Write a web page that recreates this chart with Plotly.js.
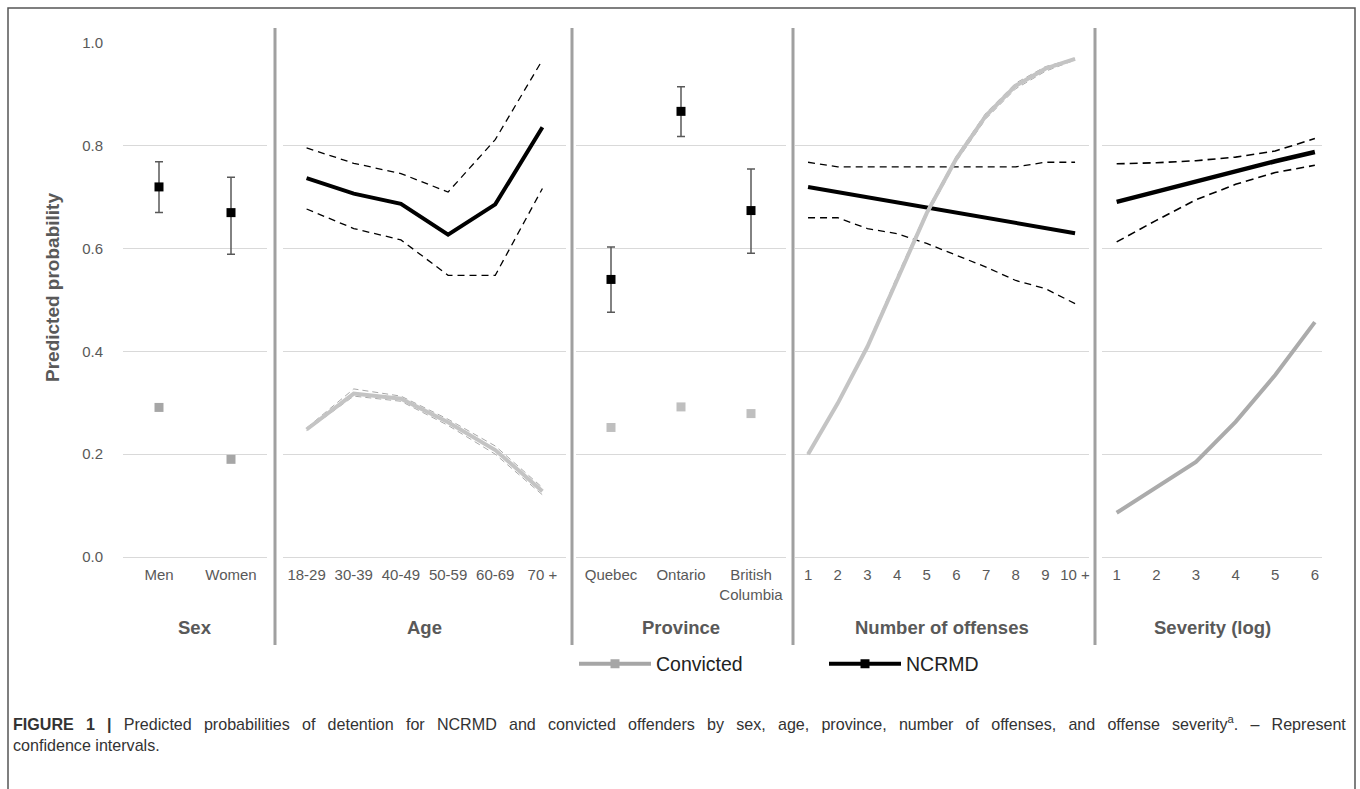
<!DOCTYPE html>
<html>
<head>
<meta charset="utf-8">
<script src="https://cdn.plot.ly/plotly-3.0.1.min.js"></script>
<style>html,body{margin:0;padding:0;background:#fff;}#chart{width:1360px;height:789px;}</style>
</head>
<body>
<div id="chart"></div>
<script>
// ---- Data ----
const sexCats = ['Men', 'Women'];
const sexNcrmd = [0.720, 0.670];
const sexNcrmdHi = [0.769, 0.739];
const sexNcrmdLo = [0.670, 0.589];
const sexConvicted = [0.291, 0.190];

const ageCats = ['18-29', '30-39', '40-49', '50-59', '60-69', '70 +'];
const ageNcrmd = [0.737, 0.707, 0.687, 0.627, 0.686, 0.836];
const ageNcrmdHi = [0.796, 0.766, 0.746, 0.710, 0.812, 0.967];
const ageNcrmdLo = [0.677, 0.639, 0.617, 0.548, 0.548, 0.717];
const ageConvicted = [0.248, 0.318, 0.308, 0.262, 0.208, 0.128];
const ageConvictedHi = [0.251, 0.327, 0.313, 0.268, 0.216, 0.135];
const ageConvictedLo = [0.246, 0.313, 0.303, 0.256, 0.200, 0.121];

const provCats = ['Quebec', 'Ontario', 'British<br>Columbia'];
const provNcrmd = [0.540, 0.867, 0.674];
const provNcrmdHi = [0.603, 0.915, 0.755];
const provNcrmdLo = [0.476, 0.818, 0.591];
const provConvicted = [0.252, 0.292, 0.279];

const offCats = ['1', '2', '3', '4', '5', '6', '7', '8', '9', '10 +'];
const offNcrmd = [0.720, 0.710, 0.700, 0.690, 0.680, 0.670, 0.660, 0.650, 0.640, 0.630];
const offNcrmdHi = [0.768, 0.759, 0.759, 0.759, 0.759, 0.759, 0.759, 0.759, 0.768, 0.768];
const offNcrmdLo = [0.660, 0.660, 0.639, 0.629, 0.610, 0.587, 0.564, 0.538, 0.522, 0.493];
const offConvicted = [0.200, 0.299, 0.409, 0.541, 0.669, 0.775, 0.859, 0.917, 0.950, 0.969];
const offConvictedHi = [0.200, 0.301, 0.413, 0.546, 0.674, 0.780, 0.864, 0.922, 0.954, 0.970];
const offConvictedLo = [0.200, 0.297, 0.405, 0.536, 0.664, 0.770, 0.853, 0.911, 0.945, 0.967];

const sevCats = ['1', '2', '3', '4', '5', '6'];
const sevNcrmd = [0.691, 0.711, 0.731, 0.751, 0.770, 0.788];
const sevNcrmdHi = [0.765, 0.767, 0.771, 0.778, 0.790, 0.814];
const sevNcrmdLo = [0.613, 0.655, 0.695, 0.725, 0.748, 0.762];
const sevConvicted = [0.086, 0.135, 0.185, 0.263, 0.354, 0.457];

const panelTitles = ['Sex', 'Age', 'Province', 'Number of offenses', 'Severity (log)'];
const seriesNames = ['Convicted', 'NCRMD'];
const yTitle = 'Predicted probability';
const captionLabel = 'FIGURE 1 |';
const captionLine1 = 'Predicted probabilities of detention for NCRMD and convicted offenders by sex, age, province, number of offenses, and offense severity<sup>a</sup>. – Represent';
const captionLine2 = 'confidence intervals.';

// ---- Styles ----
const BLACK = '#000000';
const GREY_MARK = '#a6a6a6';
const GREY_LIGHT = '#bfbfbf';
const GREY_LINE = '#c4c4c4';
const GREY_DASH = '#a8a8a8';
const TXT = '#595959';
const W = 1360, H = 789;
const px = v => v / W;
const py = v => 1 - v / H;

function diff(a, b) { return a.map((v, i) => +(v - b[i]).toFixed(4)); }

const traces = [];
function errMarkers(xa, cats, mid, hi, lo) {
  traces.push({
    x: cats, y: mid, xaxis: xa, yaxis: 'y', type: 'scatter', mode: 'markers', showlegend: false,
    marker: {symbol: 'square', size: 9, color: BLACK},
    error_y: {type: 'data', symmetric: false, array: diff(hi, mid), arrayminus: diff(mid, lo),
              color: '#595959', thickness: 1.5, width: 4}
  });
}
function convMarkers(xa, cats, vals, color) {
  traces.push({
    x: cats, y: vals, xaxis: xa, yaxis: 'y', type: 'scatter', mode: 'markers', showlegend: false,
    marker: {symbol: 'square', size: 9, color: color}
  });
}
function line(xa, cats, vals, color, width, dash) {
  traces.push({
    x: cats, y: vals, xaxis: xa, yaxis: 'y', type: 'scatter', mode: 'lines', showlegend: false,
    line: {color: color, width: width, dash: dash || 'solid'}
  });
}

// Sex
convMarkers('x', sexCats, sexConvicted, GREY_MARK);
errMarkers('x', sexCats, sexNcrmd, sexNcrmdHi, sexNcrmdLo);
// Age
line('x2', ageCats, ageConvictedHi, GREY_DASH, 1, '6px,4px');
line('x2', ageCats, ageConvictedLo, GREY_DASH, 1, '6px,4px');
line('x2', ageCats, ageConvicted, GREY_LINE, 4);
line('x2', ageCats, ageNcrmdHi, BLACK, 1.3, '7px,5px');
line('x2', ageCats, ageNcrmdLo, BLACK, 1.3, '7px,5px');
line('x2', ageCats, ageNcrmd, BLACK, 4);
// Province
convMarkers('x3', provCats, provConvicted, GREY_LIGHT);
errMarkers('x3', provCats, provNcrmd, provNcrmdHi, provNcrmdLo);
// Offenses
line('x4', offCats, offNcrmdHi, BLACK, 1.3, '7px,5px');
line('x4', offCats, offNcrmdLo, BLACK, 1.3, '7px,5px');
line('x4', offCats, offNcrmd, BLACK, 4);
line('x4', offCats, offConvictedHi, GREY_DASH, 1, '6px,4px');
line('x4', offCats, offConvictedLo, GREY_DASH, 1, '6px,4px');
line('x4', offCats, offConvicted, GREY_LINE, 4);
// Severity
line('x5', sevCats, sevNcrmdHi, BLACK, 1.6, '8px,5px');
line('x5', sevCats, sevNcrmdLo, BLACK, 1.6, '8px,5px');
line('x5', sevCats, sevNcrmd, BLACK, 4.5);
line('x5', sevCats, sevConvicted, '#ababab', 4);

// Legend entries
traces.push({x: [null], y: [null], xaxis: 'x', yaxis: 'y', type: 'scatter', mode: 'lines+markers', name: seriesNames[0],
  line: {color: GREY_MARK, width: 4}, marker: {symbol: 'square', size: 9, color: GREY_MARK}, showlegend: true});
traces.push({x: [null], y: [null], xaxis: 'x', yaxis: 'y', type: 'scatter', mode: 'lines+markers', name: seriesNames[1],
  line: {color: BLACK, width: 4}, marker: {symbol: 'square', size: 9, color: BLACK}, showlegend: true});

const domains = [[123, 267], [283, 566], [576, 786], [795, 1089], [1102, 1322]];
const catsList = [sexCats, ageCats, provCats, offCats, sevCats];
const ranges = [[-0.5, 1.5], [-0.5, 5.5], [-0.5, 2.5], [-0.44, 9.47], [-0.37, 5.18]];

const layout = {
  width: W, height: H,
  margin: {l: 0, r: 0, t: 0, b: 0, pad: 0},
  paper_bgcolor: '#ffffff', plot_bgcolor: 'rgba(0,0,0,0)',
  font: {family: 'Liberation Sans, Arial, sans-serif', color: TXT, size: 15},
  showlegend: true,
  legend: {orientation: 'h', x: px(574), xanchor: 'left', y: py(664), yanchor: 'middle',
           font: {size: 19.5, color: '#222222'}, itemwidth: 72, entrywidth: 163, entrywidthmode: 'pixels',
           bgcolor: 'rgba(0,0,0,0)'},
  yaxis: {domain: [py(557), py(43)], range: [0, 1], dtick: 0.2, tick0: 0, tickformat: '.1f',
          showgrid: true, gridcolor: '#d9d9d9', gridwidth: 1, zeroline: true, zerolinecolor: '#d9d9d9',
          zerolinewidth: 1, showline: false, ticks: '', ticklabelstandoff: 19, anchor: 'x',
          tickfont: {size: 15, color: TXT}, fixedrange: true},
  shapes: [],
  annotations: []
};
for (let i = 0; i < 5; i++) {
  const key = i === 0 ? 'xaxis' : 'xaxis' + (i + 1);
  layout[key] = {
    domain: [px(domains[i][0]), px(domains[i][1])], type: 'category', categoryorder: 'array',
    categoryarray: catsList[i], range: ranges[i], showgrid: false, zeroline: false, showline: false,
    ticks: '', anchor: 'y', tickfont: {size: 15, color: TXT}, ticklabelstandoff: 7, fixedrange: true,
    tickangle: 0
  };
  layout.annotations.push({
    text: '<b>' + panelTitles[i] + '</b>', xref: (i === 0 ? 'x' : 'x' + (i + 1)) + ' domain', x: 0.5,
    yref: 'paper', y: py(627), xanchor: 'center', yanchor: 'middle', showarrow: false,
    font: {size: 18.5, color: TXT}
  });
}
// y-axis title
layout.annotations.push({
  text: '<b>' + yTitle + '</b>', xref: 'paper', yref: 'paper', x: px(52), y: py(288),
  xanchor: 'center', yanchor: 'middle', textangle: -90, showarrow: false, font: {size: 19, color: TXT}
});
// caption (first line spread out to mimic the justified caption)
const spread = captionLine1.split(' ').join(' \u2009\u00a0');
layout.annotations.push({
  text: '<b>' + captionLabel.split(' ').join(' \u2009\u00a0') + '</b> \u2009\u00a0' + spread + '<br>' + captionLine2,
  xref: 'paper', yref: 'paper', x: px(11), y: py(711), xanchor: 'left', yanchor: 'top', align: 'left',
  showarrow: false, font: {size: 16.1, color: '#333333'}
});
// panel dividers
[275, 572, 793, 1095].forEach(xv => {
  layout.shapes.push({type: 'line', xref: 'paper', yref: 'paper', x0: px(xv), x1: px(xv), y0: py(28), y1: py(645),
                      line: {color: '#a0a0a0', width: 3}});
});
// outer frame
layout.shapes.push({type: 'rect', xref: 'paper', yref: 'paper', x0: px(8), x1: px(1355), y0: py(8), y1: -0.05,
                    line: {color: '#555555', width: 1.5}, fillcolor: 'rgba(0,0,0,0)'});

Plotly.newPlot('chart', traces, layout, {displayModeBar: false, staticPlot: true});
</script>
</body>
</html>
